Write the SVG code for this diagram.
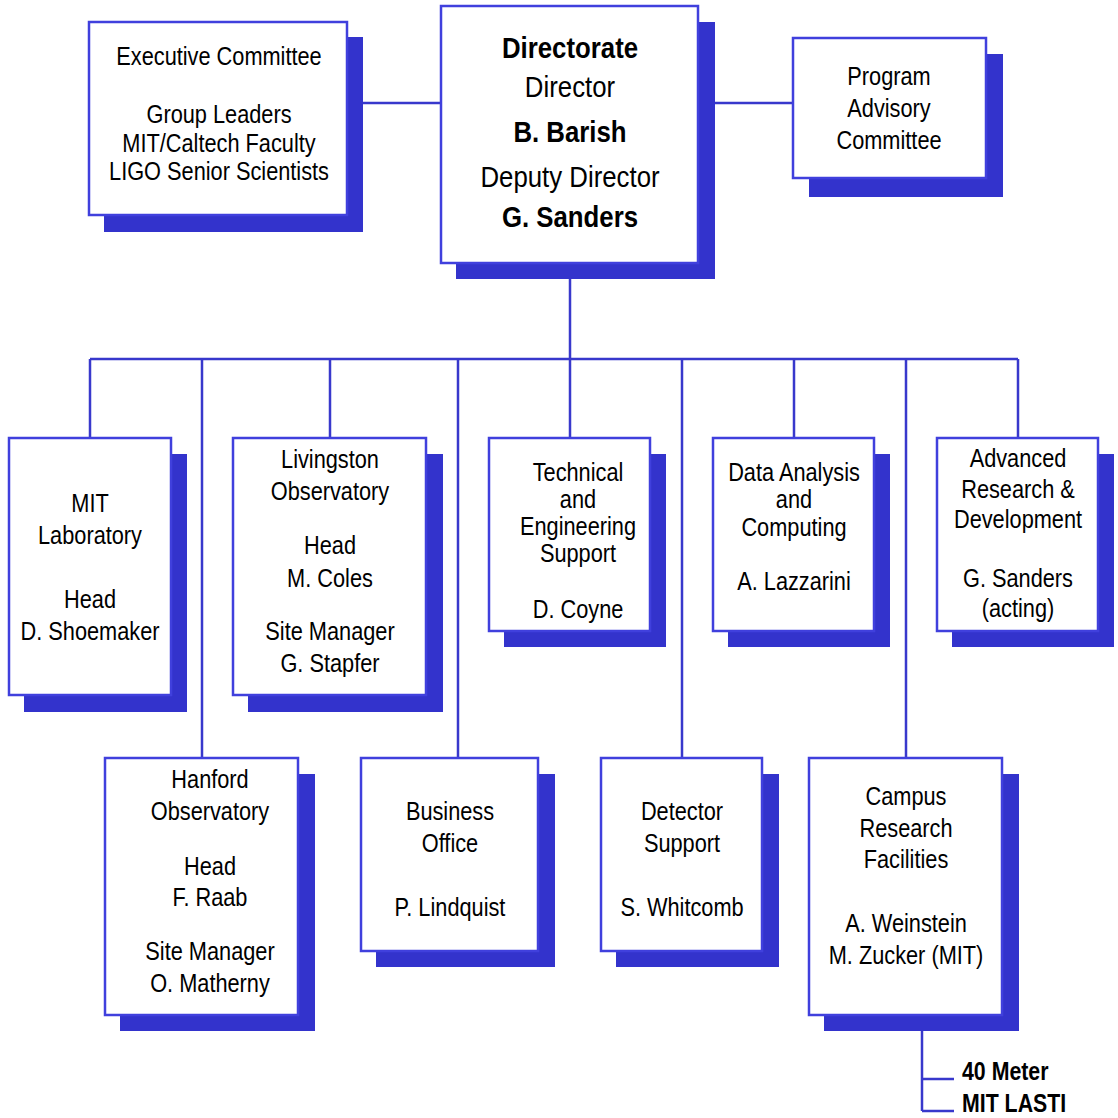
<svg xmlns="http://www.w3.org/2000/svg" width="1118" height="1118" viewBox="0 0 1118 1118">
<style>
.sh{fill:#3333CC}
.bx{fill:#fff;stroke:#4040DD;stroke-width:2.5}
.ln{fill:none;stroke:#3838CC;stroke-width:2.5}
text{font-family:"Liberation Sans",Arial,sans-serif;font-size:25px;fill:#000;text-anchor:middle}
.b{font-weight:bold}
.d{font-size:30px}
.f{font-size:26px;font-weight:bold;text-anchor:start}
</style>
<rect width="1118" height="1118" fill="#fff"/>
<g id="connectors">
<path class="ln" d="M363 103H441M715 103H793"/>
<path class="ln" d="M570 279V359M90 359H1018"/>
<path class="ln" d="M90 359V438M202 359V758M330 359V438M458 359V758M570 359V438M682 359V758M794 359V438M906 359V758M1018 359V438"/>
<path class="ln" d="M922 1031V1111M922 1079H954M922 1111H954"/>
</g>
<g id="exec">
<rect class="sh" x="104" y="37" width="259" height="195"/>
<rect class="bx" x="89" y="22" width="258" height="193"/>
<g transform="translate(219 0) scale(0.87 1)">
<text x="0" y="65">Executive Committee</text>
<text x="0" y="123">Group Leaders</text>
<text x="0" y="152">MIT/Caltech Faculty</text>
<text x="0" y="180">LIGO Senior Scientists</text>
</g>
</g>
<g id="directorate">
<rect class="sh" x="456" y="22" width="259" height="257"/>
<rect class="bx" x="441" y="6" width="257" height="257"/>
<g transform="translate(570 0) scale(0.86 1)">
<text class="d b" x="0" y="58">Directorate</text>
<text class="d" x="0" y="97">Director</text>
<text class="d b" x="0" y="142">B. Barish</text>
<text class="d" x="0" y="187">Deputy Director</text>
<text class="d b" x="0" y="227">G. Sanders</text>
</g>
</g>
<g id="pac">
<rect class="sh" x="809" y="54" width="194" height="143"/>
<rect class="bx" x="793" y="38" width="193" height="140"/>
<g transform="translate(889 0) scale(0.87 1)">
<text x="0" y="85">Program</text>
<text x="0" y="117">Advisory</text>
<text x="0" y="149">Committee</text>
</g>
</g>
<g id="mit">
<rect class="sh" x="24" y="454" width="163" height="258"/>
<rect class="bx" x="9" y="438" width="162" height="257"/>
<g transform="translate(90 0) scale(0.87 1)">
<text x="0" y="512">MIT</text>
<text x="0" y="544">Laboratory</text>
<text x="0" y="608">Head</text>
<text x="0" y="640">D. Shoemaker</text>
</g>
</g>
<g id="livingston">
<rect class="sh" x="248" y="454" width="195" height="258"/>
<rect class="bx" x="233" y="438" width="193" height="257"/>
<g transform="translate(330 0) scale(0.87 1)">
<text x="0" y="468">Livingston</text>
<text x="0" y="500">Observatory</text>
<text x="0" y="554">Head</text>
<text x="0" y="587">M. Coles</text>
<text x="0" y="640">Site Manager</text>
<text x="0" y="672">G. Stapfer</text>
</g>
</g>
<g id="technical">
<rect class="sh" x="504" y="454" width="162" height="193"/>
<rect class="bx" x="489" y="438" width="161" height="193"/>
<g transform="translate(578 0) scale(0.87 1)">
<text x="0" y="481">Technical</text>
<text x="0" y="508">and</text>
<text x="0" y="535">Engineering</text>
<text x="0" y="562">Support</text>
<text x="0" y="618">D. Coyne</text>
</g>
</g>
<g id="data">
<rect class="sh" x="728" y="454" width="162" height="193"/>
<rect class="bx" x="713" y="438" width="161" height="193"/>
<g transform="translate(794 0) scale(0.87 1)">
<text x="0" y="481">Data Analysis</text>
<text x="0" y="508">and</text>
<text x="0" y="536">Computing</text>
<text x="0" y="590">A. Lazzarini</text>
</g>
</g>
<g id="advanced">
<rect class="sh" x="952" y="454" width="162" height="193"/>
<rect class="bx" x="937" y="438" width="161" height="193"/>
<g transform="translate(1018 0) scale(0.87 1)">
<text x="0" y="467">Advanced</text>
<text x="0" y="498">Research &amp;</text>
<text x="0" y="528">Development</text>
<text x="0" y="587">G. Sanders</text>
<text x="0" y="617">(acting)</text>
</g>
</g>
<g id="hanford">
<rect class="sh" x="120" y="774" width="195" height="257"/>
<rect class="bx" x="105" y="758" width="193" height="257"/>
<g transform="translate(210 0) scale(0.87 1)">
<text x="0" y="788">Hanford</text>
<text x="0" y="820">Observatory</text>
<text x="0" y="875">Head</text>
<text x="0" y="906">F. Raab</text>
<text x="0" y="960">Site Manager</text>
<text x="0" y="992">O. Matherny</text>
</g>
</g>
<g id="business">
<rect class="sh" x="376" y="774" width="179" height="193"/>
<rect class="bx" x="361" y="758" width="177" height="193"/>
<g transform="translate(450 0) scale(0.87 1)">
<text x="0" y="820">Business</text>
<text x="0" y="852">Office</text>
<text x="0" y="916">P. Lindquist</text>
</g>
</g>
<g id="detector">
<rect class="sh" x="616" y="774" width="163" height="193"/>
<rect class="bx" x="601" y="758" width="161" height="193"/>
<g transform="translate(682 0) scale(0.87 1)">
<text x="0" y="820">Detector</text>
<text x="0" y="852">Support</text>
<text x="0" y="916">S. Whitcomb</text>
</g>
</g>
<g id="campus">
<rect class="sh" x="824" y="774" width="195" height="257"/>
<rect class="bx" x="809" y="758" width="193" height="257"/>
<g transform="translate(906 0) scale(0.87 1)">
<text x="0" y="805">Campus</text>
<text x="0" y="837">Research</text>
<text x="0" y="868">Facilities</text>
<text x="0" y="932">A. Weinstein</text>
<text x="0" y="964">M. Zucker (MIT)</text>
</g>
</g>
<g id="facilities">
<g transform="translate(962 0) scale(0.82 1)">
<text class="f" x="0" y="1080">40 Meter</text>
<text class="f" x="0" y="1112">MIT LASTI</text>
</g>
</g>
</svg>
